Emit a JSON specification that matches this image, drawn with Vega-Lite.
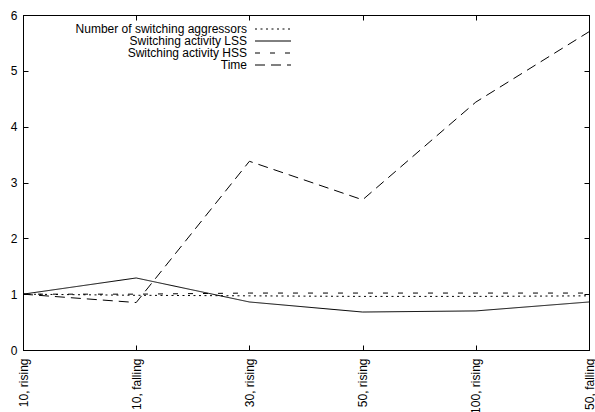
{
  "$schema": "https://vega.github.io/schema/vega-lite/v6.json",
  "autosize": "none",
  "width": 566,
  "height": 335,
  "padding": {"left": 23, "top": 15, "right": 6, "bottom": 62},
  "background": "white",
  "config": {
    "font": "Liberation Sans",
    "view": {"stroke": "black", "strokeWidth": 1},
    "axis": {"grid": false, "domainColor": "black", "tickColor": "black", "labelColor": "black", "labelFont": "Liberation Sans", "labelFontSize": 12, "title": null}
  },
  "data": {
    "values": [
      {"cat": "10, rising", "series": "Number of switching aggressors", "value": 1.0},
      {"cat": "10, falling", "series": "Number of switching aggressors", "value": 0.98},
      {"cat": "30, rising", "series": "Number of switching aggressors", "value": 0.97},
      {"cat": "50, rising", "series": "Number of switching aggressors", "value": 0.96},
      {"cat": "100, rising", "series": "Number of switching aggressors", "value": 0.96},
      {"cat": "50, falling", "series": "Number of switching aggressors", "value": 0.97},
      {"cat": "10, rising", "series": "Switching activity LSS", "value": 1.0},
      {"cat": "10, falling", "series": "Switching activity LSS", "value": 1.29},
      {"cat": "30, rising", "series": "Switching activity LSS", "value": 0.86},
      {"cat": "50, rising", "series": "Switching activity LSS", "value": 0.68},
      {"cat": "100, rising", "series": "Switching activity LSS", "value": 0.7},
      {"cat": "50, falling", "series": "Switching activity LSS", "value": 0.86},
      {"cat": "10, rising", "series": "Switching activity HSS", "value": 1.0},
      {"cat": "10, falling", "series": "Switching activity HSS", "value": 1.0},
      {"cat": "30, rising", "series": "Switching activity HSS", "value": 1.02},
      {"cat": "50, rising", "series": "Switching activity HSS", "value": 1.02},
      {"cat": "100, rising", "series": "Switching activity HSS", "value": 1.02},
      {"cat": "50, falling", "series": "Switching activity HSS", "value": 1.02},
      {"cat": "10, rising", "series": "Time", "value": 1.0},
      {"cat": "10, falling", "series": "Time", "value": 0.85},
      {"cat": "30, rising", "series": "Time", "value": 3.38},
      {"cat": "50, rising", "series": "Time", "value": 2.69},
      {"cat": "100, rising", "series": "Time", "value": 4.44},
      {"cat": "50, falling", "series": "Time", "value": 5.7}
    ]
  },
  "layer": [
    {
      "mark": {"type": "line", "color": "black", "strokeWidth": 1},
      "encoding": {
        "x": {
          "field": "cat", "type": "nominal", "sort": null,
          "scale": {"type": "point", "padding": 0},
          "axis": {"orient": "bottom", "labelAngle": 270, "labelAlign": "right", "labelBaseline": "middle", "tickSize": -5, "labelPadding": 13}
        },
        "y": {
          "field": "value", "type": "quantitative",
          "scale": {"domain": [0, 6], "nice": false, "zero": true},
          "axis": {"orient": "left", "values": [0, 1, 2, 3, 4, 5, 6], "tickSize": -5, "labelPadding": 11}
        },
        "strokeDash": {
          "field": "series", "type": "nominal",
          "scale": {
            "domain": ["Number of switching aggressors", "Switching activity LSS", "Switching activity HSS", "Time"],
            "range": [[2, 3.5], [1, 0], [5, 10], [10, 6]]
          },
          "legend": {
            "orient": "none", "legendX": 244, "legendY": 8, "title": null,
            "symbolType": "M-4,0H4", "symbolSize": 81, "symbolStrokeColor": "black", "symbolStrokeWidth": 1,
            "labelAlign": "right", "labelOffset": -32, "labelFontSize": 12, "labelColor": "black", "labelLimit": 0,
            "rowPadding": 0, "padding": 0
          }
        },
        "detail": {"field": "series"}
      }
    },
    {
      "mark": {"type": "line", "opacity": 0},
      "encoding": {
        "x": {
          "field": "cat", "type": "nominal", "sort": null,
          "scale": {"type": "point", "padding": 0},
          "axis": {"orient": "top", "labels": false, "tickSize": -5}
        },
        "y": {
          "field": "value", "type": "quantitative",
          "scale": {"domain": [0, 6], "nice": false, "zero": true},
          "axis": {"orient": "right", "labels": false, "values": [0, 1, 2, 3, 4, 5, 6], "tickSize": -5}
        },
        "detail": {"field": "series"}
      }
    }
  ],
  "resolve": {"axis": {"x": "independent", "y": "independent"}}
}
